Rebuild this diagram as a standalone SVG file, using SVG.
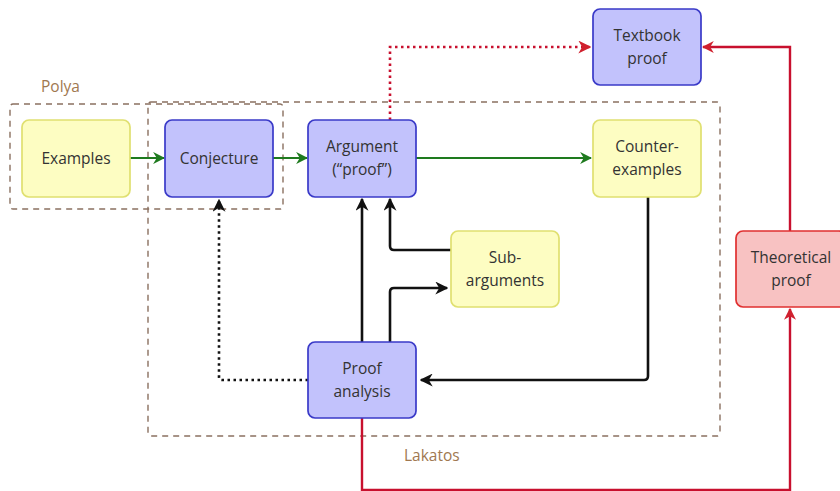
<svg xmlns="http://www.w3.org/2000/svg" width="840" height="491" viewBox="0 0 840 491">
<defs>
<style>
.blue{fill:#c2c2fc;stroke:#3a3ac8;stroke-width:1.7}
.yellow{fill:#fdfdc2;stroke:#e0e070;stroke-width:1.7}
.pink{fill:#f8c2c2;stroke:#e03030;stroke-width:1.7}
text{font-family:"Open Sans",Lato,"DejaVu Sans",sans-serif;font-size:15.5px;fill:#333;text-anchor:middle}
.lbl{fill:#a07850;font-size:15.5px;text-anchor:start}
.grp{fill:none;stroke:#8a7060;stroke-width:1.4;stroke-dasharray:6 5}
.g{fill:none;stroke:#1e7a1e;stroke-width:2.2}
.k{fill:none;stroke:#111;stroke-width:2.6;stroke-linejoin:round}
.kd{fill:none;stroke:#111;stroke-width:2.6;stroke-dasharray:2.5 3.5}
.r{fill:none;stroke:#c8102e;stroke-width:2.4}
.rd{fill:none;stroke:#c8102e;stroke-width:2.6;stroke-dasharray:2.5 3.5}
</style>
<marker id="ag" viewBox="0 0 10 10" refX="9" refY="5" markerWidth="5.5" markerHeight="5.5" orient="auto" markerUnits="strokeWidth"><path d="M0,0 L10,5 L0,10 L3,5 z" fill="#1e7a1e"/></marker>
<marker id="ak" viewBox="0 0 10 10" refX="9" refY="5" markerWidth="5" markerHeight="5" orient="auto" markerUnits="strokeWidth"><path d="M0,0 L10,5 L0,10 L3,5 z" fill="#111"/></marker>
<marker id="ar" viewBox="0 0 10 10" refX="9" refY="5" markerWidth="5" markerHeight="5" orient="auto" markerUnits="strokeWidth"><path d="M0,0 L10,5 L0,10 L3,5 z" fill="#d0202e"/></marker>
</defs>
<g id="groups">
<rect class="grp" x="10" y="104" width="273" height="105" rx="3"/>
<rect class="grp" x="148" y="102" width="572" height="334" rx="3"/>
<text class="lbl" x="41" y="92">Polya</text>
<text class="lbl" x="404" y="461">Lakatos</text>
</g>
<g id="connectors">
<path class="g" d="M130,158 H164" marker-end="url(#ag)"/>
<path class="g" d="M273,158 H307" marker-end="url(#ag)"/>
<path class="g" d="M416,158 H591" marker-end="url(#ag)"/>
<path class="rd" d="M390,120 V47 H590" marker-end="url(#ar)"/>
<path class="r" d="M790,231 V47 H703" marker-end="url(#ar)"/>
<path class="r" d="M362,418 V490 H790 V309" marker-end="url(#ar)"/>
<path class="k" d="M362,342 V199" marker-end="url(#ak)"/>
<path class="k" d="M390,342 V292 Q390,288 394,288 H447" marker-end="url(#ak)"/>
<path class="k" d="M451,250 H394 Q390,250 390,246 V199" marker-end="url(#ak)"/>
<path class="k" d="M648,197 V376 Q648,380 644,380 H421" marker-end="url(#ak)"/>
<path class="kd" d="M308,380 H222 Q219,380 219,377 V200" marker-end="url(#ak)"/>
</g>
<g id="examples"><rect class="yellow" x="22" y="120" width="108" height="77" rx="7"/><text x="76" y="164">Examples</text></g>
<g id="conjecture"><rect class="blue" x="165" y="120" width="108" height="77" rx="7"/><text x="219" y="164">Conjecture</text></g>
<g id="argument"><rect class="blue" x="308" y="120" width="108" height="77" rx="7"/><text x="362" y="152">Argument</text><text x="362" y="175">(“proof”)</text></g>
<g id="counterexamples"><rect class="yellow" x="593" y="120" width="108" height="77" rx="7"/><text x="647" y="152">Counter-</text><text x="647" y="175">examples</text></g>
<g id="textbook"><rect class="blue" x="593" y="9" width="108" height="76" rx="7"/><text x="647" y="41">Textbook</text><text x="647" y="64">proof</text></g>
<g id="subarguments"><rect class="yellow" x="451" y="231" width="108" height="76" rx="7"/><text x="505" y="263">Sub-</text><text x="505" y="286">arguments</text></g>
<g id="proofanalysis"><rect class="blue" x="308" y="342" width="108" height="76" rx="7"/><text x="362" y="374">Proof</text><text x="362" y="397">analysis</text></g>
<g id="theoretical"><rect class="pink" x="736" y="231" width="110" height="76" rx="7"/><text x="791" y="263">Theoretical</text><text x="791" y="286">proof</text></g>
</svg>
